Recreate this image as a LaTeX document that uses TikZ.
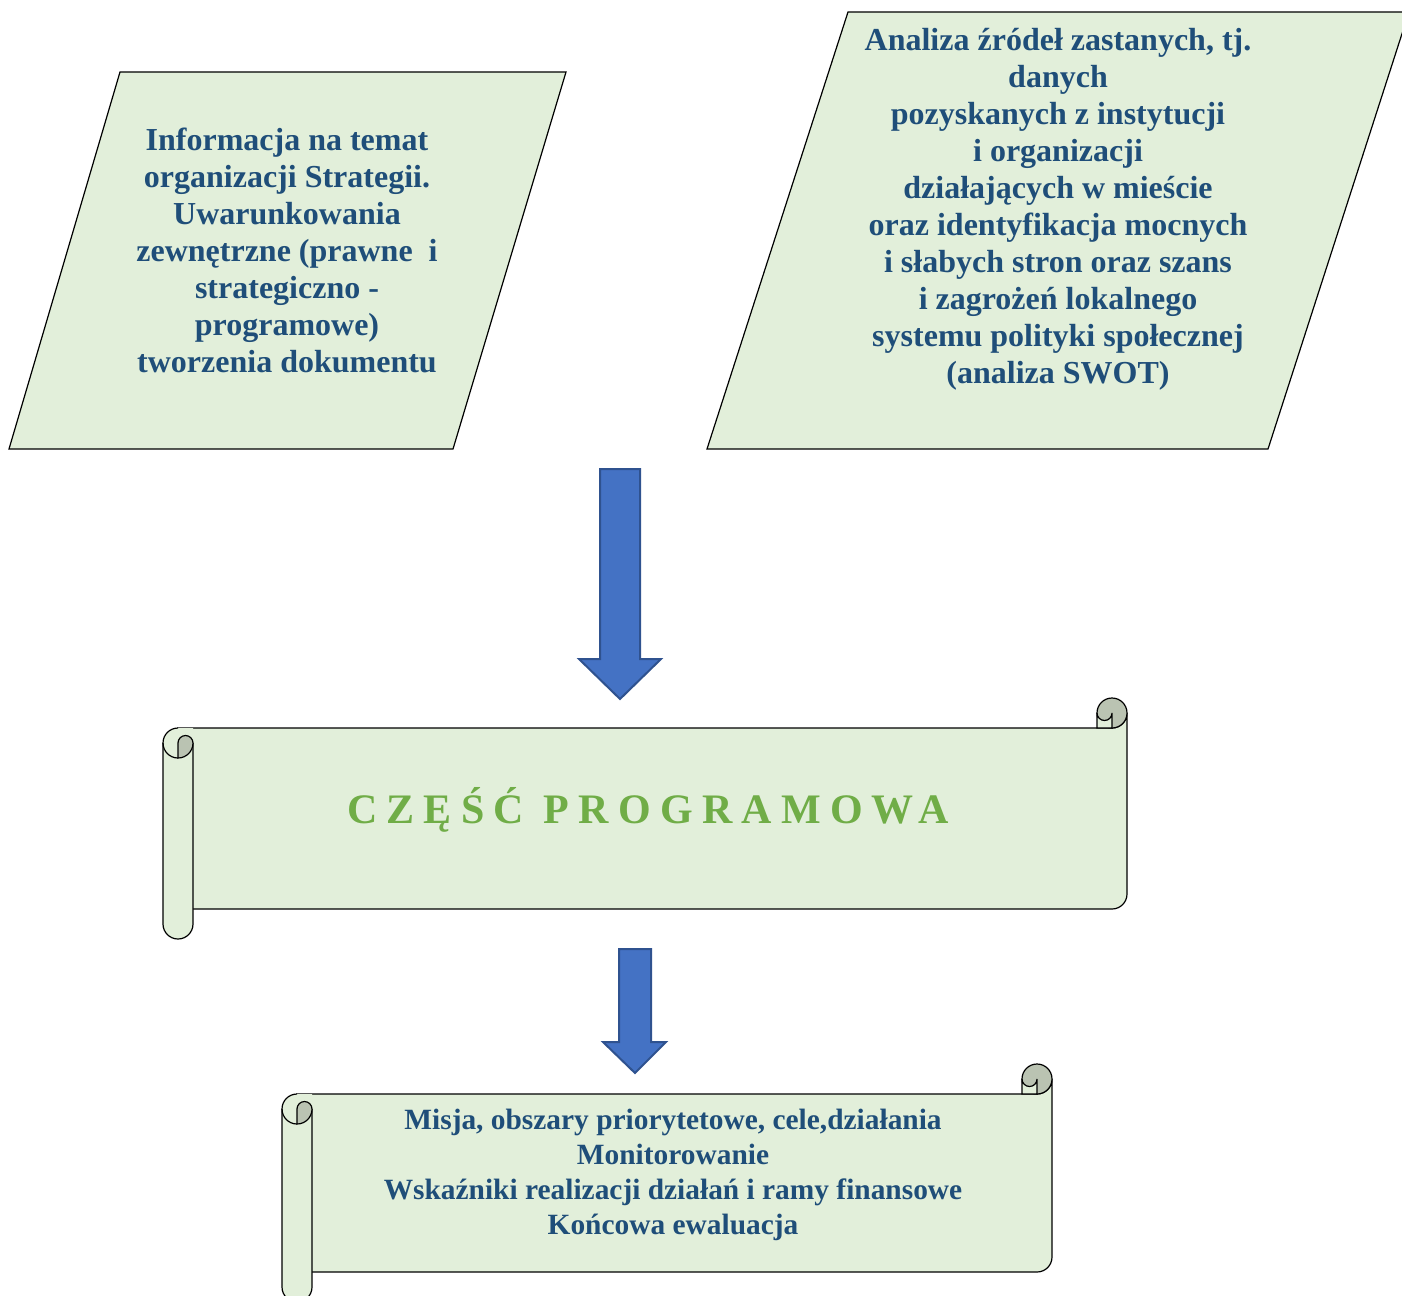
\documentclass[tikz,border=0pt]{standalone}
\usepackage{fontspec}
\setmainfont{Liberation Serif}
\usepackage{xcolor}

\definecolor{boxfill}{HTML}{E2EFDA}
\definecolor{rollfill}{HTML}{BAC3B2}
\definecolor{textblue}{HTML}{1F4E79}
\definecolor{titlegreen}{HTML}{70AD47}
\definecolor{arrowfill}{HTML}{4472C4}
\definecolor{arrowline}{HTML}{2F528F}

\tikzset{
  boxline/.style={draw=black, line width=0.6pt},
  boxtext/.style={text=textblue, font=\fontsize{16}{18.5}\selectfont\bfseries, align=center},
  blockarrow/.style={fill=arrowfill, draw=arrowline, line width=1pt, line join=miter},
}

% scroll: left, top of right roll, right, bottom of body
\newcommand{\scrollshape}[4]{%
  \filldraw[boxline, fill=boxfill] ({#1+15},{-(#2+30)}) -- ({#3-15},{-(#2+30)}) arc[start angle=270, end angle=360, radius=15] -- (#3,{-(#4-15)}) arc[start angle=0, end angle=-90, radius=15] -- ({#1+15},-#4) -- cycle ;
  \fill[boxfill] ({#1+15},{-(#2+30)}) -- ({#1+30},{-(#2+30)}) -- ({#1+30},{-(#4+15)}) arc[start angle=0, end angle=-180, radius=15] -- (#1,{-(#2+45)}) arc[start angle=180, end angle=90, radius=15] -- cycle ;
  \draw[boxline] ({#1+30},{-(#2+45)}) -- ({#1+30},{-(#4+15)}) arc[start angle=0, end angle=-180, radius=15] -- (#1,{-(#2+45)}) arc[start angle=180, end angle=90, radius=15] ;
  \draw[boxline] (#1,{-(#2+45)}) arc[start angle=180, end angle=270, radius=15] ;
  \filldraw[boxline, fill=rollfill] ({#1+15},{-(#2+60)}) -- ({#1+15},{-(#2+45)}) arc[start angle=180, end angle=0, radius=7.5] arc[start angle=0, end angle=-90, radius=15] -- cycle ;
  \filldraw[boxline, fill=rollfill] ({#3-15},{-(#2+15)}) circle[radius=15] ;
  \filldraw[boxline, fill=boxfill] ({#3-30},{-(#2+15)}) arc[start angle=180, end angle=360, radius=7.5] -- ({#3-15},{-(#2+30)}) -- ({#3-30},{-(#2+30)}) -- cycle ;
}

\begin{document}
\begin{tikzpicture}[x=0.5pt, y=0.5pt]
    \useasboundingbox (0,0) rectangle (1402,-1295) ;
    \clip (0,0) rectangle (1402,-1295) ;

    % input boxes
    \filldraw[boxline, fill=boxfill] (120,-72) -- (566,-72) -- (453,-449) -- (9,-449) -- cycle ;
    \node[boxtext] at (287,-250) (info) {Informacja na temat\\ organizacji Strategii.\\ Uwarunkowania\\ zewnętrzne (prawne\ \ i\\ strategiczno -\\ programowe)\\ tworzenia dokumentu} ;

    \filldraw[boxline, fill=boxfill] (848,-12) -- (1409,-12) -- (1268,-449) -- (707,-449) -- cycle ;
    \node[boxtext] at (1058,-209) (swot) {Analiza źródeł zastanych, tj.\\ danych\\ pozyskanych z instytucji\\ i organizacji\\ działających w mieście\\ oraz identyfikacja mocnych\\ i słabych stron oraz szans\\ i zagrożeń lokalnego\\ systemu polityki społecznej\\ (analiza SWOT)} ;

    % arrows
    \draw[blockarrow] (600,-469) -- (640,-469) -- (640,-659) -- (661,-659) -- (620,-699) -- (579,-659) -- (600,-659) -- cycle ;
    \draw[blockarrow] (619,-949) -- (651,-949) -- (651,-1042) -- (666,-1042) -- (635,-1073) -- (603,-1042) -- (619,-1042) -- cycle ;

    % scrolls
    \scrollshape{163}{698}{1127}{909}
    \node[anchor=base, text=titlegreen, font=\fontsize{21}{25}\selectfont\bfseries\addfontfeature{LetterSpace=22}] at (648,-823) (prog) {CZĘŚĆ PROGRAMOWA} ;

    \scrollshape{282}{1064}{1052}{1272}
    \node[boxtext, font=\fontsize{14.7}{17.5}\selectfont\bfseries] at (673,-1175) (plan) {Misja, obszary priorytetowe, cele,działania\\ Monitorowanie\\ Wskaźniki realizacji działań i ramy finansowe\\ Końcowa ewaluacja} ;
  \end{tikzpicture}
\end{document}
